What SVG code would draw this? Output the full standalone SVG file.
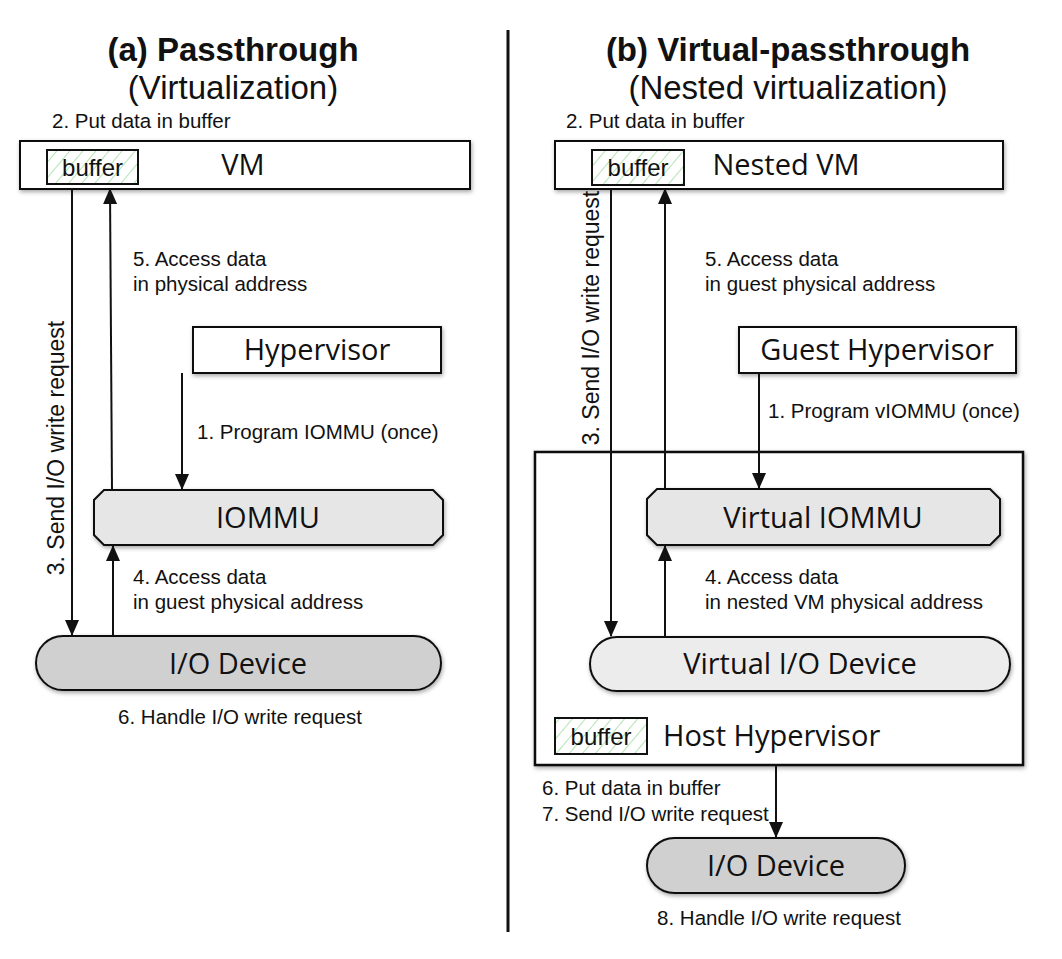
<svg xmlns="http://www.w3.org/2000/svg" width="1062" height="959" viewBox="0 0 1062 959">
<style>
.lbl{font-family:"Liberation Sans",Arial,sans-serif;font-size:20.5px;fill:#111}
.vlbl{font-family:"Liberation Sans",Arial,sans-serif;font-size:23px;fill:#111;text-anchor:middle}
.ttl{font-family:"Liberation Sans",Arial,sans-serif;font-size:33px;fill:#111;text-anchor:middle}
.node{font-family:"Open Sans","DejaVu Sans",sans-serif;font-size:29px;fill:#111}
.buf{font-family:"Liberation Sans",Arial,sans-serif;font-size:24px;fill:#111;text-anchor:middle}
.box{fill:#fff;stroke:#111;stroke-width:2;filter:url(#sh)}
.conn{stroke:#111;stroke-width:2;fill:none;marker-end:url(#ah)}
</style>
<defs>
<filter id="sh" x="-10%" y="-20%" width="120%" height="150%">
<feDropShadow dx="1" dy="2" stdDeviation="2" flood-color="#000" flood-opacity="0.35"/>
</filter>
<pattern id="hatch" patternUnits="userSpaceOnUse" width="10" height="10" patternTransform="rotate(40)">
<rect width="10" height="10" fill="#fff"/>
<line x1="0" y1="0" x2="0" y2="10" stroke="#9bdc9b" stroke-width="1.5"/>
</pattern>
<marker id="ah" markerWidth="16" markerHeight="14" refX="15" refY="7" orient="auto" markerUnits="userSpaceOnUse" viewBox="0 0 16 14">
<path d="M0,0 L16,7 L0,14 Z" fill="#111"/>
</marker>
</defs>

<g id="titles">
<text class="ttl" x="233" y="61" font-weight="bold">(a) Passthrough</text>
<text class="ttl" x="233" y="99">(Virtualization)</text>
<text class="ttl" x="788" y="61" font-weight="bold">(b) Virtual-passthrough</text>
<text class="ttl" x="788" y="99">(Nested virtualization)</text>
</g>
<line id="divider" x1="508" y1="30" x2="508" y2="932" stroke="#111" stroke-width="3"/>

<!-- Left panel -->
<g id="vm">
<rect class="box" x="20" y="141" width="450" height="48"/>
<rect x="47" y="150" width="91" height="34" fill="url(#hatch)" stroke="#111" stroke-width="2"/>
<text class="buf" x="92.5" y="176">buffer</text>
<text class="node" x="243" y="175" text-anchor="middle">VM</text>
</g>
<g id="hypervisor">
<rect class="box" x="193" y="327" width="248" height="46"/>
<text class="node" x="317" y="360" text-anchor="middle">Hypervisor</text>
</g>
<g id="iommu">
<path class="box" d="M104,490 H433 L443,500 V535 L433,545 H104 L94,535 V500 Z" style="fill:#e6e6e6"/>
<text class="node" x="268" y="528" text-anchor="middle">IOMMU</text>
</g>
<g id="iodevice-a">
<rect class="box" x="36" y="636" width="405" height="54" rx="27" ry="27" style="fill:#d0d0d0"/>
<text class="node" x="238" y="674" text-anchor="middle">I/O Device</text>
</g>

<!-- Right panel -->
<g id="nestedvm">
<rect class="box" x="555" y="141" width="448" height="48"/>
<rect x="592" y="150" width="92" height="35" fill="url(#hatch)" stroke="#111" stroke-width="2"/>
<text class="buf" x="638" y="176">buffer</text>
<text class="node" x="786" y="175" text-anchor="middle">Nested VM</text>
</g>
<g id="guesthypervisor">
<rect class="box" x="739" y="327" width="277" height="46"/>
<text class="node" x="877" y="360" text-anchor="middle">Guest Hypervisor</text>
</g>
<g id="hosthypervisor">
<rect class="box" x="535" y="452" width="488" height="313" style="stroke-width:2.5"/>
<rect x="555" y="718" width="92" height="36" fill="url(#hatch)" stroke="#111" stroke-width="2"/>
<text class="buf" x="601" y="745">buffer</text>
<text class="node" x="663" y="746">Host Hypervisor</text>
</g>
<g id="viommu">
<path class="box" d="M657,489 H990 L1000,499 V535 L990,545 H657 L647,535 V499 Z" style="fill:#e6e6e6"/>
<text class="node" x="823" y="528" text-anchor="middle">Virtual IOMMU</text>
</g>
<g id="viodevice">
<rect class="box" x="590" y="637" width="420" height="54" rx="27" ry="27" style="fill:#ececec"/>
<text class="node" x="800" y="674" text-anchor="middle">Virtual I/O Device</text>
</g>
<g id="iodevice-b">
<rect class="box" x="647" y="838" width="258" height="55" rx="27.5" ry="27.5" style="fill:#d0d0d0"/>
<text class="node" x="776" y="876" text-anchor="middle">I/O Device</text>
</g>

<g id="connectors">
<line class="conn" x1="72" y1="189" x2="72" y2="635"/>
<line class="conn" x1="112" y1="490" x2="110" y2="189"/>
<line class="conn" x1="182" y1="373" x2="182" y2="489"/>
<line class="conn" x1="113" y1="636" x2="113" y2="546"/>
<line class="conn" x1="611" y1="189" x2="611" y2="636"/>
<line class="conn" x1="665" y1="489" x2="665" y2="189"/>
<line class="conn" x1="759" y1="373" x2="759" y2="488"/>
<line class="conn" x1="665" y1="637" x2="665" y2="546"/>
<line class="conn" x1="776" y1="766" x2="776" y2="837"/>
</g>

<g id="labels">
<text class="lbl" x="52" y="128">2. Put data in buffer</text>
<text class="vlbl" transform="translate(64,448) rotate(-90)">3. Send I/O write request</text>
<text class="lbl" x="133" y="266">5. Access data</text>
<text class="lbl" x="133" y="291">in physical address</text>
<text class="lbl" x="197" y="439">1. Program IOMMU (once)</text>
<text class="lbl" x="133" y="584">4. Access data</text>
<text class="lbl" x="133" y="609">in guest physical address</text>
<text class="lbl" x="240" y="724" text-anchor="middle">6. Handle I/O write request</text>

<text class="lbl" x="566" y="128">2. Put data in buffer</text>
<text class="vlbl" transform="translate(599,318) rotate(-90)">3. Send I/O write request</text>
<text class="lbl" x="705" y="266">5. Access data</text>
<text class="lbl" x="705" y="291">in guest physical address</text>
<text class="lbl" x="768" y="418">1. Program vIOMMU (once)</text>
<text class="lbl" x="705" y="584">4. Access data</text>
<text class="lbl" x="705" y="609">in nested VM physical address</text>
<text class="lbl" x="542" y="795">6. Put data in buffer</text>
<text class="lbl" x="542" y="821">7. Send I/O write request</text>
<text class="lbl" x="779" y="925" text-anchor="middle">8. Handle I/O write request</text>
</g>
</svg>
